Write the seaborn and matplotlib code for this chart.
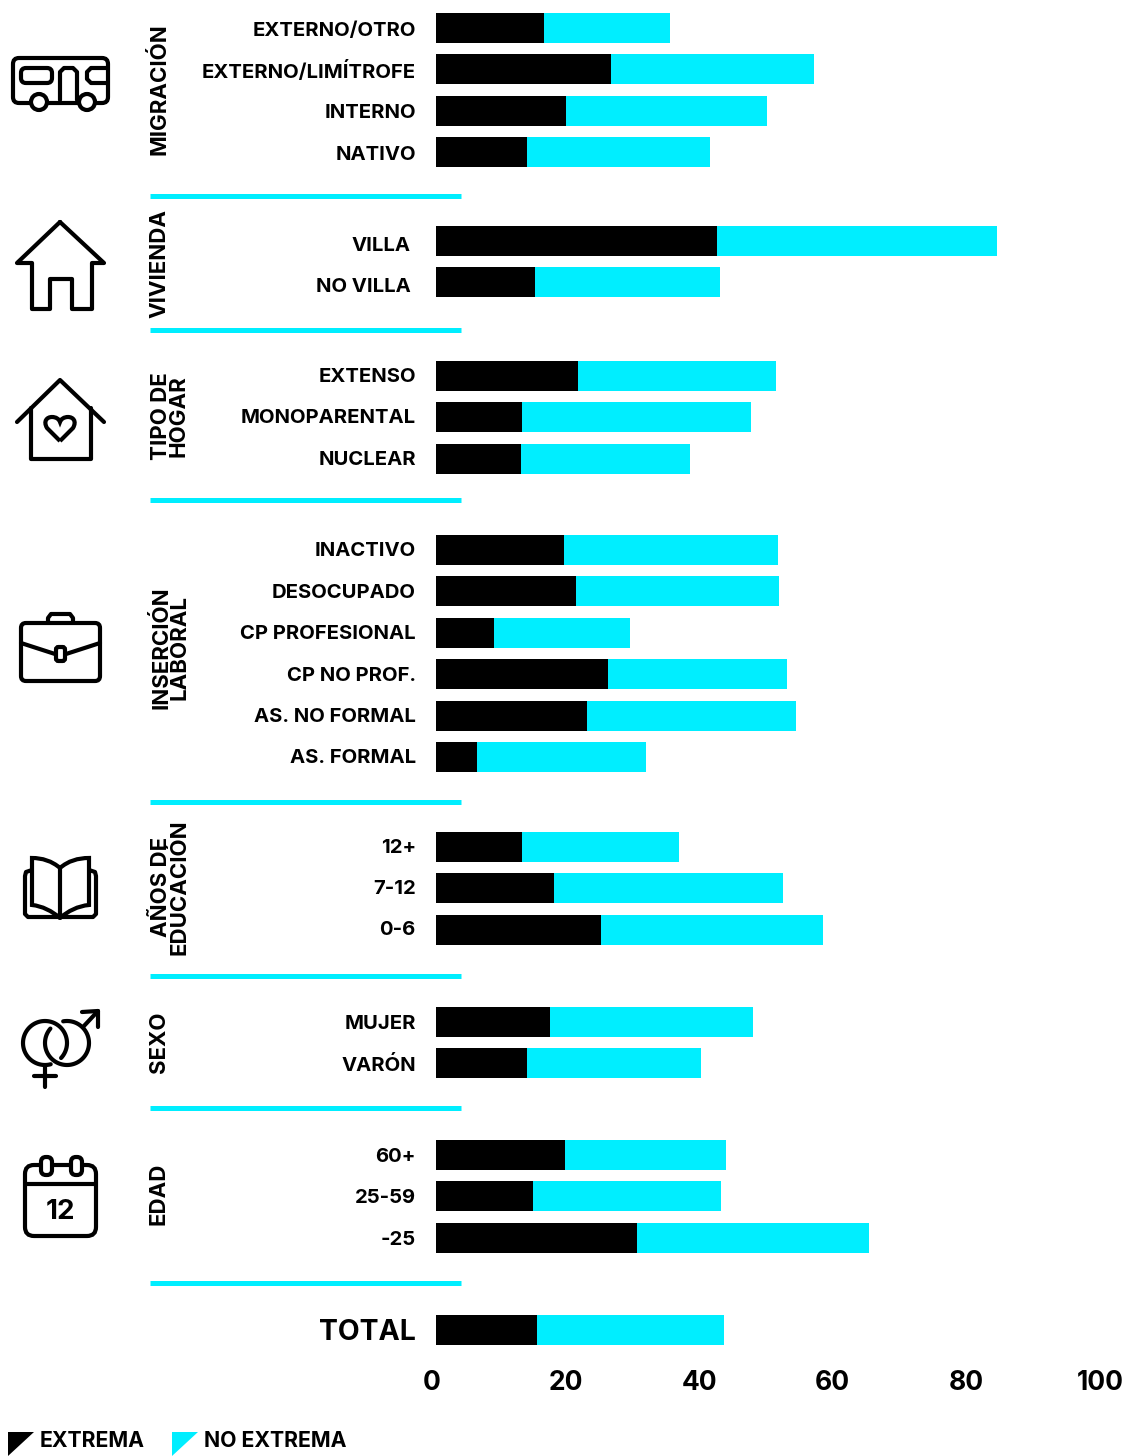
import numpy as np
import seaborn as sns
import matplotlib.pyplot as plt
from matplotlib.patches import Circle, FancyBboxPatch, PathPatch, Polygon
from matplotlib.path import Path
from matplotlib.transforms import ScaledTranslation

BLACK = '#000000'
CYAN = '#00eeff'
W, H = 1127, 1456
ROW = 41.4

migracion_labels = ['EXTERNO/OTRO', 'EXTERNO/LIMÍTROFE', 'INTERNO', 'NATIVO']
migracion_extrema = [16.2, 26.2, 19.5, 13.6]
migracion_no_extrema = [18.9, 30.4, 30.1, 27.4]

vivienda_labels = ['VILLA', 'NO VILLA']
vivienda_extrema = [42.1, 14.8]
vivienda_no_extrema = [41.9, 27.7]

hogar_labels = ['EXTENSO', 'MONOPARENTAL', 'NUCLEAR']
hogar_extrema = [21.3, 12.9, 12.7]
hogar_no_extrema = [29.6, 34.3, 25.3]

laboral_labels = ['INACTIVO', 'DESOCUPADO', 'CP PROFESIONAL', 'CP NO PROF.', 'AS. NO FORMAL', 'AS. FORMAL']
laboral_extrema = [19.2, 21.0, 8.7, 25.7, 22.6, 6.1]
laboral_no_extrema = [32.0, 30.4, 20.4, 26.8, 31.3, 25.4]

educacion_labels = ['12+', '7-12', '0-6']
educacion_extrema = [12.9, 17.7, 24.7]
educacion_no_extrema = [23.5, 34.3, 33.2]

sexo_labels = ['MUJER', 'VARÓN']
sexo_extrema = [17.1, 13.6]
sexo_no_extrema = [30.4, 26.0]

edad_labels = ['60+', '25-59', '-25']
edad_extrema = [19.3, 14.5, 30.1]
edad_no_extrema = [24.1, 28.1, 34.7]

total_labels = ['TOTAL']
total_extrema = [15.1]
total_no_extrema = [28.0]

x_ticks = [0, 20, 40, 60, 80, 100]

sns.set_theme(style='white')
plt.rcParams['font.family'] = ['Inter', 'DejaVu Sans']
plt.rcParams['font.weight'] = 'bold'

fig = plt.figure(figsize=(W / 100, H / 100), dpi=100)


def bar_group(labels, extrema, no_extrema, first_y, pad=14.5, size=14.6, dy=0):
    top = first_y - ROW / 2
    height = ROW * len(labels)
    ax = fig.add_axes([436 / W, 1 - (top + height) / H, 668 / W, height / H])
    totals = np.array(extrema) + np.array(no_extrema)
    sns.barplot(x=totals, y=labels, color=CYAN, saturation=1, width=0.725, orient='h', linewidth=0, ax=ax)
    sns.barplot(x=extrema, y=labels, color=BLACK, saturation=1, width=0.725, orient='h', linewidth=0, ax=ax)
    ax.set_xlim(0, 100)
    ax.set(xlabel='', ylabel='')
    ax.tick_params(axis='y', length=0, pad=pad, labelsize=size)
    ax.tick_params(axis='x', bottom=False, labelbottom=False)
    sns.despine(ax=ax, left=True, bottom=True)
    ax.patch.set_alpha(0)
    for lab in ax.get_yticklabels():
        lab.set_fontweight('bold')
        lab.set_color(BLACK)
        lab.set_transform(lab.get_transform() + ScaledTranslation(0, -dy / 100, fig.dpi_scale_trans))
    return ax


bar_group(migracion_labels, migracion_extrema, migracion_no_extrema, 28, dy=0.5)
bar_group(vivienda_labels, vivienda_extrema, vivienda_no_extrema, 241, pad=18.5, dy=3)
bar_group(hogar_labels, hogar_extrema, hogar_no_extrema, 376, dy=-1)
bar_group(laboral_labels, laboral_extrema, laboral_no_extrema, 550, dy=-0.5)
bar_group(educacion_labels, educacion_extrema, educacion_no_extrema, 847, dy=-1.5)
bar_group(sexo_labels, sexo_extrema, sexo_no_extrema, 1022)
bar_group(edad_labels, edad_extrema, edad_no_extrema, 1155)
ax_total = bar_group(total_labels, total_extrema, total_no_extrema, 1330, size=20.5)

ax_total.set_xticks(x_ticks)
ax_total.tick_params(axis='x', labelbottom=True, labelsize=19, pad=7.6)
for lab in ax_total.get_xticklabels():
    lab.set_fontweight('bold')
    lab.set_color(BLACK)
    lab.set_transform(lab.get_transform() + ScaledTranslation(-4 / 100, 0, fig.dpi_scale_trans))

# overlay in pixel coordinates for the rules, titles, legend and icons
over = fig.add_axes([0, 0, 1, 1], zorder=5)
over.set_xlim(0, W)
over.set_ylim(H, 0)
over.axis('off')
over.patch.set_alpha(0)

for y in [196, 330, 500, 802, 976, 1108, 1283]:
    over.plot([150, 461], [y, y], color=CYAN, lw=3.6, solid_capstyle='butt')

titles = [('MIGRACIÓN', 159, 89), ('VIVIENDA', 159, 263), ('TIPO DE\nHOGAR', 170, 416),
          ('INSERCIÓN\nLABORAL', 170, 648), ('AÑOS DE\nEDUCACIÓN', 170, 887),
          ('SEXO', 159, 1042), ('EDAD', 159, 1194)]
for txt, x, y in titles:
    over.text(x, y, txt, rotation=90, ha='center', va='center', ma='center',
              fontsize=16, fontweight='bold', linespacing=0.85, color=BLACK)

over.add_patch(Polygon([(8, 1432), (34, 1432), (8, 1456)], color=BLACK, lw=0))
over.add_patch(Polygon([(172, 1432), (198, 1432), (172, 1456)], color=CYAN, lw=0))
over.text(40, 1441, 'EXTREMA', fontsize=15.3, fontweight='bold', va='center', color=BLACK)
over.text(204, 1441, 'NO EXTREMA', fontsize=15.3, fontweight='bold', va='center', color=BLACK)

LW = 3.0


def line(pts, **kw):
    xs, ys = zip(*pts)
    over.plot(xs, ys, color=BLACK, lw=kw.pop('lw', LW), solid_capstyle='round', solid_joinstyle='round', **kw)


def rbox(x0, y0, x1, y1, r=4, fc='none', lw=LW, z=3):
    over.add_patch(FancyBboxPatch((x0 + r, y0 + r), x1 - x0 - 2 * r, y1 - y0 - 2 * r,
                                  boxstyle=f'round,pad={r}', fc=fc, ec=BLACK, lw=lw, zorder=z))


def ring(cx, cy, r, start, end):
    t = np.radians(np.linspace(start, end, 80))
    line(list(zip(cx + r * np.cos(t), cy - r * np.sin(t))))


# bus
rbox(13, 58, 108, 103, r=6)
rbox(21, 68, 52, 83, r=5)
line([(60, 100), (60, 72), (64, 68), (73, 68), (77, 72), (77, 100)])
line([(108, 68), (91, 68), (87, 72), (87, 79), (91, 83), (108, 83)])
over.add_patch(Circle((39, 102), 8, fc='white', ec=BLACK, lw=LW, zorder=4))
over.add_patch(Circle((87, 102), 8, fc='white', ec=BLACK, lw=LW, zorder=4))

# house
line([(60, 222), (17, 263), (32, 263), (32, 309), (50, 309), (50, 279), (72, 279),
      (72, 309), (92, 309), (92, 263), (104, 263), (60, 222)])

# household
line([(17, 422), (60, 380), (104, 422)])
line([(31, 408), (31, 459), (91, 459), (91, 408)])
heart = Path([(60, 441), (47, 428), (43, 421), (47, 417), (52, 417), (56, 417), (59, 419), (60, 422),
              (61, 419), (64, 417), (68, 417), (73, 417), (77, 421), (73, 428), (60, 441)],
             [1, 2, 4, 4, 4, 4, 4, 4, 4, 4, 4, 4, 4, 4, 2])
over.add_patch(PathPatch(heart, fc='none', ec=BLACK, lw=LW))

# briefcase
rbox(21, 623, 100, 681, r=5)
line([(48, 623), (48, 618), (51, 614), (70, 614), (73, 618), (73, 623)])
line([(21, 643), (55, 654)])
line([(66, 654), (100, 643)])
rbox(56, 647, 65, 661, r=2.5, fc='white', z=4)

# book
line([(32, 870), (26, 872), (25, 876), (25, 914), (28, 917), (93, 917), (96, 914), (96, 876), (95, 872), (89, 870)])
page_l = Path([(60, 868), (52, 861), (42, 858), (32, 858), (32, 905), (42, 906), (52, 911), (60, 918)],
              [1, 4, 4, 4, 2, 4, 4, 4])
page_r = Path([(60, 868), (68, 861), (78, 858), (89, 858), (89, 905), (78, 906), (68, 911), (60, 918)],
              [1, 4, 4, 4, 2, 4, 4, 4])
over.add_patch(PathPatch(page_l, fc='white', ec=BLACK, lw=LW, zorder=3))
over.add_patch(PathPatch(page_r, fc='white', ec=BLACK, lw=LW, zorder=3))
line([(60, 868), (60, 918)], zorder=4)

# sex symbols
ring(45, 1043, 22, -43, 285)
ring(67, 1043, 22, -221, 100)
line([(45, 1066), (45, 1087)])
line([(34, 1076), (56, 1076)])
line([(83, 1027), (98, 1011)])
line([(82, 1012), (98, 1011), (98, 1027)])

# calendar
rbox(25, 1165, 96, 1236, r=9)
line([(25, 1184), (96, 1184)])
rbox(41, 1157, 52, 1175, r=5, fc='white', z=4)
rbox(71, 1157, 82, 1175, r=5, fc='white', z=4)
over.text(60, 1212, '12', fontsize=20, fontweight='bold', ha='center', va='center', color=BLACK)

fig.savefig('out.png', dpi=100)
